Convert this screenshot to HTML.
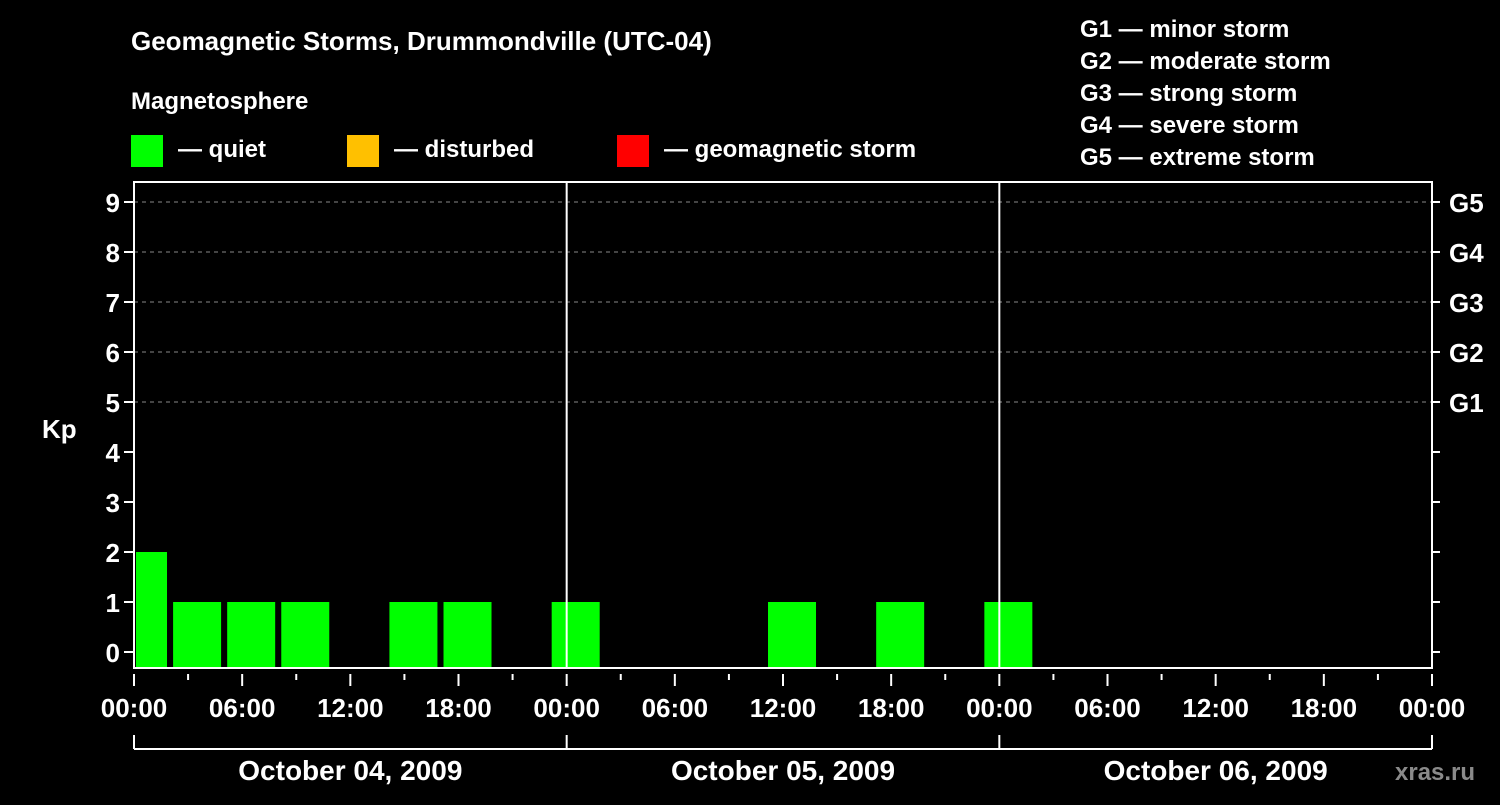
<!DOCTYPE html>
<html><head><meta charset="utf-8"><style>
html,body{margin:0;padding:0;background:#000;}
svg text{font-family:"Liberation Sans",Arial,sans-serif;font-weight:bold;fill:#fff;}
</style></head><body>
<svg id="c" width="1500" height="800" xmlns="http://www.w3.org/2000/svg">
<rect width="1500" height="800" fill="#000"/>
<text x="131" y="50" font-size="26">Geomagnetic Storms, Drummondville (UTC-04)</text>
<text x="131" y="109" font-size="24">Magnetosphere</text>
<rect x="131" y="135" width="32" height="32" fill="#00ff00"/>
<text x="178" y="157" font-size="24">— quiet</text>
<rect x="347" y="135" width="32" height="32" fill="#ffc000"/>
<text x="394" y="157" font-size="24">— disturbed</text>
<rect x="617" y="135" width="32" height="32" fill="#ff0000"/>
<text x="664" y="157" font-size="24">— geomagnetic storm</text>
<g font-size="24">
<text x="1080" y="37">G1 — minor storm</text>
<text x="1080" y="69">G2 — moderate storm</text>
<text x="1080" y="101">G3 — strong storm</text>
<text x="1080" y="133">G4 — severe storm</text>
<text x="1080" y="165">G5 — extreme storm</text>
</g>
<text x="42" y="438" font-size="26">Kp</text>
<text x="1395" y="780" font-size="24" fill="#888" style="fill:#8a8a8a">xras.ru</text>
<g id="grid"></g><g id="bars"></g><g id="axes"></g>
</svg>
<script>
const kpValues = [2,1,1,1,null,1,1,null,1,null,null,null,1,null,1,null,1,null,null,null,null,null,null,null];
const yTicks = [0,1,2,3,4,5,6,7,8,9];
const gLabels = ["G1","G2","G3","G4","G5"];
const gLevels = [5,6,7,8,9];
const xTickLabels = ["00:00","06:00","12:00","18:00","00:00","06:00","12:00","18:00","00:00","06:00","12:00","18:00","00:00"];
const dayLabels = ["October 04, 2009","October 05, 2009","October 06, 2009"];
const NS="http://www.w3.org/2000/svg";
const L=134,R=1432,T=182,B=668;
const hourPx=(R-L)/72;
const X=h=>L+h*hourPx;
const Y=v=>652-v*50;
function mk(tag,at,parent){const e=document.createElementNS(NS,tag);for(const k in at)e.setAttribute(k,at[k]);parent.appendChild(e);return e;}
const grid=document.getElementById('grid'),bars=document.getElementById('bars'),axes=document.getElementById('axes');
gLevels.forEach((v,i)=>{
 const ln=mk('line',{x1:L,x2:R,y1:Y(v),y2:Y(v),stroke:'#888','stroke-dasharray':'4,4','stroke-width':1},grid);
 
 
 const t=mk('text',{x:R+17,y:Y(v)+10,'font-size':26},axes);t.textContent=gLabels[i];
 
 
});
kpValues.forEach((v,k)=>{
 if(v===null)return;
 const c=0.5+3*k;let x0=X(c)-24,x1=X(c)+24;x0=Math.max(x0,L+2);
 const col=v>=5?'#ff0000':(v>=4?'#ffc000':'#00ff00');
 const r=mk('rect',{x:x0,y:Y(v),width:x1-x0,height:B-Y(v),fill:col},bars);
 
 
});
[24,48].forEach(h=>{const l=mk('line',{x1:X(h),x2:X(h),y1:T,y2:B,stroke:'#fff','stroke-width':2},axes);
 
 });
const fr=mk('rect',{x:L,y:T,width:R-L,height:B-T,fill:'none',stroke:'#fff','stroke-width':2},axes);


yTicks.forEach(v=>{
 mk('line',{x1:L-10,x2:L,y1:Y(v),y2:Y(v),stroke:'#fff','stroke-width':2},axes);
 mk('line',{x1:R,x2:R+8,y1:Y(v),y2:Y(v),stroke:'#fff','stroke-width':2},axes);
 const t=mk('text',{x:L-14,y:Y(v)+10,'font-size':26,'text-anchor':'end'},axes);t.textContent=v;
 
 
});
for(let h=0;h<=72;h+=3){
 const major=h%6===0;
 mk('line',{x1:X(h),x2:X(h),y1:B+6,y2:B+(major?18:12),stroke:'#fff','stroke-width':2},axes);
}
xTickLabels.forEach((s,i)=>{
 const t=mk('text',{x:X(i*6),y:717,'font-size':26,'text-anchor':'middle'},axes);t.textContent=s;
 
 
});
mk('line',{x1:X(0),x2:X(72),y1:749,y2:749,stroke:'#fff','stroke-width':2},axes);
[0,24,48,72].forEach(h=>mk('line',{x1:X(h),x2:X(h),y1:735,y2:749,stroke:'#fff','stroke-width':2},axes));
dayLabels.forEach((s,i)=>{
 const t=mk('text',{x:X(i*24+12),y:780,'font-size':28,'text-anchor':'middle'},axes);t.textContent=s;
 
 
});
</script>
</body></html>
